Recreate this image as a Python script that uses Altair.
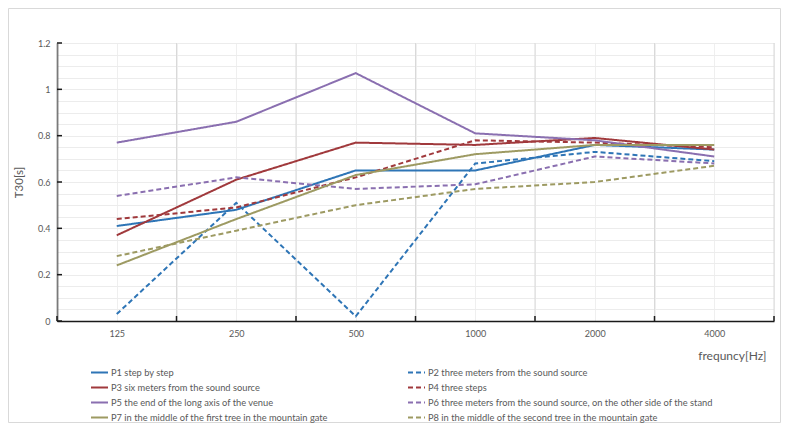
import altair as alt
import pandas as pd

freqs = ["125", "250", "500", "1000", "2000", "4000"]
names = [
    "P1 step by step",
    "P2 three meters from the sound source",
    "P3 six meters from the sound source",
    "P4 three steps",
    "P5 the end of the long axis of the venue",
    "P6 three meters from the sound source, on the other side of the stand",
    "P7 in the middle of the first tree in the mountain gate",
    "P8 in the middle of the second tree in the mountain gate",
]
p1 = [0.41, 0.48, 0.65, 0.65, 0.76, 0.74]
p2 = [0.03, 0.51, 0.02, 0.68, 0.73, 0.69]
p3 = [0.37, 0.61, 0.77, 0.76, 0.79, 0.74]
p4 = [0.44, 0.49, 0.62, 0.78, 0.77, 0.75]
p5 = [0.77, 0.86, 1.07, 0.81, 0.78, 0.71]
p6 = [0.54, 0.62, 0.57, 0.59, 0.71, 0.68]
p7 = [0.24, 0.44, 0.63, 0.72, 0.76, 0.76]
p8 = [0.28, 0.39, 0.50, 0.57, 0.60, 0.67]
series = [p1, p2, p3, p4, p5, p6, p7, p8]

colors = ["#2E75B6", "#2E75B6", "#A0393C", "#A0393C",
          "#8A6FB0", "#8A6FB0", "#9D9A62", "#9D9A62"]
dashes = [[1, 0], [5, 3], [1, 0], [5, 3], [1, 0], [5, 3], [1, 0], [5, 3]]

y_major = [0, 0.2, 0.4, 0.6, 0.8, 1.0, 1.2]
y_minor = [round(i * 0.05, 2) for i in range(25)]
x_bounds = [i - 0.5 for i in range(7)]
x_all = [i * 0.5 - 0.5 for i in range(13)]

rows = []
for name, vals in zip(names, series):
    for i, v in enumerate(vals):
        rows.append({"idx": i, "freq": freqs[i], "value": v, "series": name})
df = pd.DataFrame(rows)

# legend fills column by column: order so rows read P1 P2 / P3 P4 / ...
leg_order = [0, 2, 4, 6, 1, 3, 5, 7]
dom = [names[i] for i in leg_order]
rng_c = [colors[i] for i in leg_order]
rng_d = [dashes[i] for i in leg_order]

W, H = 717, 278
FONT = "Lato"
GRAY = "#595959"

xscale = alt.Scale(domain=[-0.5, 5.5], nice=False, zero=False)
yscale = alt.Scale(domain=[0, 1.2], nice=False, zero=False)

freq_arr = "[" + ",".join("'%s'" % f for f in freqs) + "]"
x_label_expr = ("abs(datum.value - round(datum.value)) < 0.1 ? "
                + freq_arr + "[round(datum.value)] : ''")
y_label_expr = ("abs(datum.value*5 - round(datum.value*5)) < 0.001 ? "
                "format(datum.value, '~g') : ''")

xaxis = alt.Axis(
    values=x_all, labelExpr=x_label_expr, tickSize=0, labelPadding=8,
    labelFont=FONT, labelFontSize=9, labelColor=GRAY,
    domainColor="#1a1a1a", domainWidth=1.5,
    grid=True, gridColor="#efefef", gridWidth=1,
    title="frequncy[Hz]", titleFont=FONT, titleFontSize=12,
    titleFontWeight="normal", titleColor=GRAY,
    titleX=W - 8, titleY=34, titleAlign="right", titleBaseline="middle",
)
yaxis = alt.Axis(
    values=y_minor, labelExpr=y_label_expr, tickSize=0, labelPadding=7,
    labelFont=FONT, labelFontSize=9, labelColor=GRAY,
    domainColor="#1a1a1a", domainWidth=1.5,
    grid=True, gridColor="#ececec", gridWidth=1,
    title="T30[s]", titleFont=FONT, titleFontSize=11.5, titleFontWeight="normal",
    titleColor=GRAY, titlePadding=13,
)

legend = alt.Legend(
    title=None, orient="none", legendX=33, legendY=320, columns=2,
    columnPadding=76, rowPadding=-4, symbolType="stroke", symbolStrokeWidth=2,
    symbolSize=289, labelFont=FONT, labelFontSize=9.3, labelColor=GRAY,
    labelOffset=2, labelLimit=400,
)

vgrid = alt.Chart(pd.DataFrame({"b": x_bounds})).mark_rule(color="#d9d9d9", strokeWidth=1).encode(
    x=alt.X("b:Q", scale=xscale, axis=xaxis),
    y=alt.value(0), y2=alt.value(H),
)

lines = alt.Chart(df).mark_line(strokeWidth=2).encode(
    x=alt.X("idx:Q", scale=xscale, axis=xaxis),
    y=alt.Y("value:Q", scale=yscale, axis=yaxis),
    color=alt.Color("series:N", scale=alt.Scale(domain=dom, range=rng_c), legend=legend),
    strokeDash=alt.StrokeDash("series:N", scale=alt.Scale(domain=dom, range=rng_d), legend=legend),
    order=alt.Order("idx:Q"),
)

yticks = alt.Chart(pd.DataFrame({"value": y_major})).mark_rule(color="#1a1a1a", strokeWidth=1.5).encode(
    y=alt.Y("value:Q", scale=yscale, axis=yaxis),
    x=alt.value(0), x2=alt.value(5),
)
xticks = alt.Chart(pd.DataFrame({"b": x_bounds})).mark_rule(color="#1a1a1a", strokeWidth=1.5).encode(
    x=alt.X("b:Q", scale=xscale, axis=xaxis),
    y=alt.value(H), y2=alt.value(H - 5),
)
border = alt.Chart(pd.DataFrame({"k": [0]})).mark_rect(
    fill=None, stroke="#d9d9d9", strokeWidth=1
).encode(
    x=alt.value(-48.5), x2=alt.value(W + 6.5),
    y=alt.value(-34.5), y2=alt.value(H + 101.5),
)

chart = alt.layer(vgrid, lines, yticks, xticks, border).properties(
    width=W, height=H,
    padding={"left": 49, "top": 35, "right": 7, "bottom": 102},
    autosize=alt.AutoSizeParams(type="none"),
).configure_view(stroke=None).configure(background="white")

chart.save("out.html", embed_options={"renderer": "svg", "actions": False})
